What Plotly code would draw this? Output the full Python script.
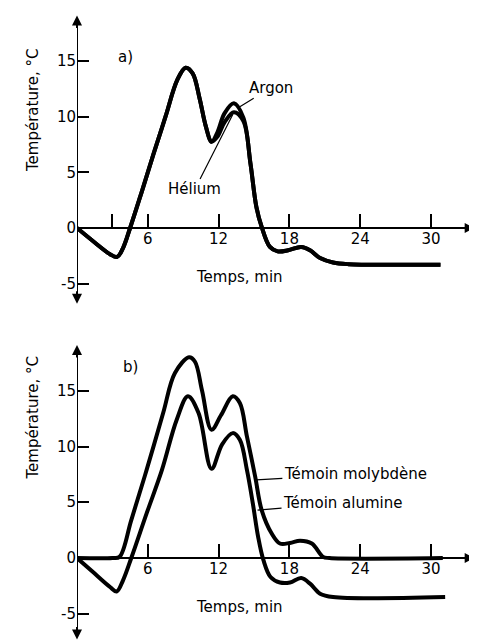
import plotly.graph_objects as go

# panel a) : argon / helium
t_a = [0, 1.5, 2.8, 3.4, 3.9, 4.5, 5.5, 6.5, 7.5, 8.5, 9.2, 9.8, 10.4, 10.9, 11.4, 11.9, 12.5, 13.3,
       14.1, 14.7, 15.2, 15.65, 16.35, 17.0, 17.9, 19.0, 19.75, 20.6, 21.7, 23, 27, 30.8]
argon = [0, -1.3, -2.35, -2.6, -1.8, 0, 3.3, 6.7, 10.0, 13.3, 14.4, 13.9, 11.6, 9.2, 7.75, 8.6,
         10.3, 11.2, 9.9, 5.8, 1.9, 0.1, -1.7, -2.1, -2.0, -1.7, -2.0, -2.7, -3.1, -3.25, -3.3, -3.3]
helium = [0, -1.3, -2.35, -2.6, -1.8, 0, 3.3, 6.7, 10.0, 13.3, 14.4, 13.9, 11.6, 9.2, 7.75, 8.2,
          9.5, 10.4, 9.6, 5.8, 1.9, 0.1, -1.7, -2.1, -2.0, -1.7, -2.0, -2.7, -3.1, -3.25, -3.3, -3.3]

# panel b) : temoins
t_mo = [0, 3.0, 3.6, 4.6, 5.9, 7.3, 8.3, 9.5, 10.0, 10.6, 11.4, 12.2, 13.2, 13.8, 14.4, 15.1,
        15.65, 16.5, 17.2, 18.05, 18.9, 19.9, 20.85, 21.4, 31]
molybdene = [0, 0, 0.1, 3.4, 7.9, 13.0, 16.6, 18.0, 17.6, 15.0, 11.5, 12.8, 14.5, 13.9, 10.9, 7.3,
             4.3, 2.2, 1.3, 1.35, 1.55, 1.3, 0.1, 0, 0]
t_al = [0, 1.5, 2.8, 3.36, 3.9, 4.6, 5.9, 7.2, 8.45, 9.4, 10.3, 11.4, 12.3, 13.2, 13.8, 14.4,
        14.9, 15.35, 15.8, 16.4, 17.2, 18.05, 19.0, 19.75, 20.6, 21.7, 31.2]
alumine = [0, -1.4, -2.6, -3.0, -2.0, 0, 4.0, 7.9, 12.4, 14.5, 13.0, 8.0, 10.2, 11.2, 10.6, 7.9,
           4.9, 1.9, -0.2, -1.7, -2.2, -2.2, -1.8, -2.3, -3.2, -3.5, -3.5]

W, H = 477, 643
OFF = 8  # page body margin
FONT = "DejaVu Sans"
x0_px, xscale = 77 - OFF, 11.8
xmax = (W - x0_px) / xscale

def ydomain(zero_px, scale, ylo, yhi):
    zero_px -= OFF
    top = zero_px - yhi * scale
    bot = zero_px - ylo * scale
    return [1 - bot / H, 1 - top / H], 1 - zero_px / H

dom_a, pos_a = ydomain(228, 11.13, -6.9, 19.5)
dom_b, pos_b = ydomain(558, 11.15, -7.5, 19.5)

fig = go.Figure()
line = dict(color="black", width=4, shape="spline", smoothing=1.0)
fig.add_trace(go.Scatter(x=t_a, y=helium, mode="lines", line=line, xaxis="x", yaxis="y"))
fig.add_trace(go.Scatter(x=t_a, y=argon, mode="lines", line=line, xaxis="x", yaxis="y"))
fig.add_trace(go.Scatter(x=t_mo, y=molybdene, mode="lines", line=line, xaxis="x2", yaxis="y2"))
fig.add_trace(go.Scatter(x=t_al, y=alumine, mode="lines", line=line, xaxis="x2", yaxis="y2"))

tickfont = dict(family=FONT, size=15, color="black")
xcommon = dict(range=[0, xmax], domain=[x0_px / W, 1], anchor="free", showgrid=False,
               zeroline=False, showline=False, ticks="inside", ticklen=14, tickwidth=2,
               tickcolor="black", tickfont=tickfont, automargin=False)
ycommon = dict(showgrid=False, zeroline=False, showline=False, ticks="inside", ticklen=12,
               tickwidth=2, tickcolor="black", tickfont=tickfont, automargin=False,
               tickvals=[-5, 0, 5, 10, 15], ticktext=["-5", "0", "5", "10", "15"])

fig.update_layout(
    width=W, height=H, margin=dict(l=0, r=0, t=0, b=0),
    plot_bgcolor="white", paper_bgcolor="white", showlegend=False,
    xaxis=dict(xcommon, position=pos_a, tickvals=[3, 6, 12, 18, 24, 30],
               ticktext=["", "6", "12", "18", "24", "30"]),
    yaxis=dict(ycommon, range=[-6.9, 19.5], domain=dom_a, anchor="x"),
    xaxis2=dict(xcommon, position=pos_b, tickvals=[6, 12, 18, 24, 30]),
    yaxis2=dict(ycommon, range=[-7.5, 19.5], domain=dom_b, anchor="x2"),
)

# axis lines with arrows
for xr, yr, top, bottom in [("x", "y", 19.1, -6.8), ("x2", "y2", 19.1, -7.3)]:
    fig.add_shape(type="line", x0=0, y0=0, x1=33.4, y1=0, xref=xr, yref=yr,
                  line=dict(color="black", width=2))
    fig.add_shape(type="line", x0=0, y0=bottom + 0.5, x1=0, y1=top - 0.5, xref=xr, yref=yr,
                  line=dict(color="black", width=2))
    for hx, hy, dx, dy in [(33.7, 0, -14, 0), (0, top, 0, 14), (0, bottom, 0, -14)]:
        fig.add_annotation(x=hx, y=hy, ax=dx, ay=dy, xref=xr, yref=yr,
                           text="", showarrow=True, arrowhead=2, arrowsize=1, arrowwidth=2,
                           arrowcolor="black", standoff=0)

txt = dict(family=FONT, size=15, color="black")
for yr, ty, ly in [("y", -4.4, 10.6), ("y2", -4.4, 12.6)]:
    xr = "x" if yr == "y" else "x2"
    fig.add_annotation(x=13.8, y=ty, xref=xr, yref=yr, text="Temps, min",
                       showarrow=False, font=txt)
    fig.add_annotation(x=(22 - OFF) / W, y=ly, xref="paper", yref=yr, text="Température, °C",
                       textangle=-90, showarrow=False, font=txt)

fig.add_annotation(x=4.1, y=15.4, xref="x", yref="y", text="a)", showarrow=False, font=txt)
fig.add_annotation(x=4.5, y=17.1, xref="x2", yref="y2", text="b)", showarrow=False, font=txt)

label_arrow = dict(showarrow=True, arrowhead=0, arrowwidth=1.2, arrowcolor="black", font=txt)
fig.add_annotation(x=13.8, y=10.9, xref="x", yref="y", text="Argon", ax=31, ay=-19, **label_arrow)
fig.add_annotation(x=13.2, y=10.2, xref="x", yref="y", text="Hélium", ax=-38, ay=75, **label_arrow)
fig.add_annotation(x=15.2, y=7.0, xref="x2", yref="y2", text="Témoin molybdène",
                   ax=99, ay=-6, **label_arrow)
fig.add_annotation(x=15.3, y=4.3, xref="x2", yref="y2", text="Témoin alumine",
                   ax=85, ay=-7, **label_arrow)

fig.write_html("out.html")
